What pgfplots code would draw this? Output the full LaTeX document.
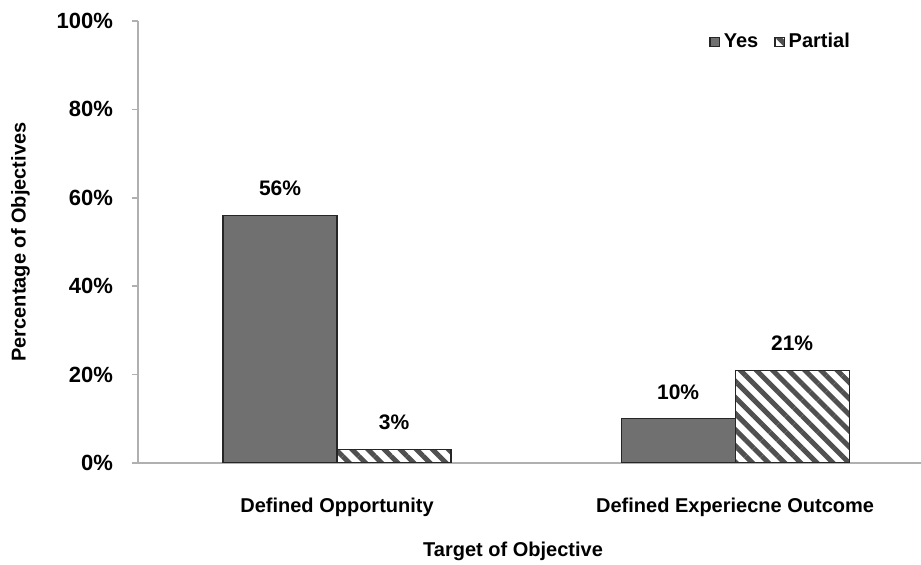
\documentclass[border=0pt]{standalone}
\usepackage{pgfplots}
\pgfplotsset{compat=1.18}
\usepackage{fontspec}
\setmainfont{Liberation Sans}
\usetikzlibrary{patterns.meta}
\definecolor{yesgray}{HTML}{707070}
\definecolor{stripegray}{HTML}{505050}
\definecolor{edgegray}{HTML}{262626}
\definecolor{axisgray}{HTML}{B0B0B0}
\begin{document}
\begin{tikzpicture}
\begin{axis}[
  at={(0,0)}, anchor=south west,
  scale only axis,
  width=391.5pt, height=221pt,
  font=\fontsize{10.5}{12}\selectfont\bfseries,
  /pgf/number format/assume math mode=true,
  ybar=0pt, bar width=57pt,
  xmin=-0.5, xmax=1.467,
  ymin=0, ymax=100,
  axis x line*=bottom, axis y line*=left,
  axis line style={axisgray, line width=0.8pt},
  every tick/.style={axisgray, line width=0.8pt},
  tick align=outside,
  major tick length=3pt,
  xtick={0,1},
  xticklabels={Defined Opportunity, Defined Experiecne Outcome},
  xtick style={draw=none},
  extra x ticks={0.5},
  extra x tick labels={},
  extra x tick style={xtick style={axisgray, line width=0.8pt}, major tick length=3pt},
  xticklabel style={yshift=-11pt, font=\fontsize{10}{12}\selectfont\bfseries},
  ytick={0,20,40,60,80,100},
  yticklabel={\pgfmathprintnumber{\tick}\%},
  yticklabel style={xshift=-6pt, font=\fontsize{11}{12}\selectfont\bfseries},
  xlabel={Target of Objective},
  ylabel={Percentage of Objectives},
  every axis x label/.style={at={(axis description cs:0.479,-0.199)}, anchor=center, font=\fontsize{10}{12}\selectfont\bfseries},
  every axis y label/.style={at={(axis description cs:-0.150,0.5)}, rotate=90, anchor=center, font=\fontsize{10}{12}\selectfont\bfseries},
  nodes near coords={\pgfmathprintnumber{\pgfplotspointmeta}\%},
  point meta=y,
  every node near coord/.append style={anchor=center, yshift=13.5pt, font=\fontsize{10.5}{12}\selectfont\bfseries, /pgf/number format/assume math mode=true},
  legend columns=2,
  legend style={draw=none, fill=none, at={(axis description cs:0.7216,0.9525)}, anchor=west,
    font=\fontsize{10}{12}\selectfont\bfseries,
    /tikz/every even column/.append style={column sep=6pt}},
  legend image code/.code={\draw[#1, line width=0.6pt] (0pt,-2.3pt) rectangle (4.6pt,2.3pt);},
]
\addplot[fill=yesgray, draw=edgegray, line width=0.6pt] coordinates {(0,56) (1,10)};
\addplot[pattern={Lines[angle=-45,distance=5.7pt,line width=2.5pt]}, pattern color=stripegray, draw=edgegray, line width=0.6pt] coordinates {(0,3) (1,21)};
\legend{Yes, Partial}
\end{axis}
\pgfresetboundingbox
\path (-69pt,-51pt) rectangle (391.5pt,231.5pt);
\end{tikzpicture}
\end{document}
